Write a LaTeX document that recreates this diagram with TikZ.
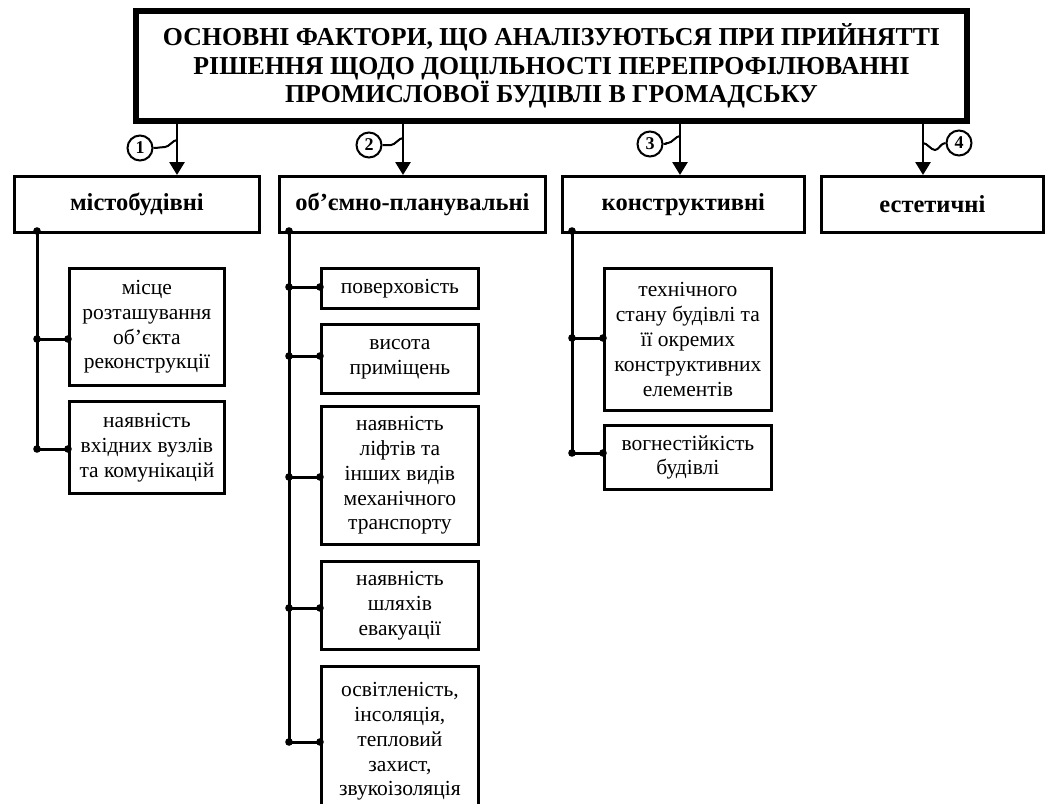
\documentclass[tikz,border=0pt]{standalone}
\usepackage{fontspec}
\setmainfont{Liberation Serif}
\usetikzlibrary{arrows.meta}
\begin{document}
\begin{tikzpicture}[x=1pt,y=-1pt,
  box/.style={draw, line width=2.8pt, align=center, inner sep=0pt, anchor=north west},
  lvl2/.style={box, minimum height=56pt, font=\fontsize{24.5}{28}\selectfont\bfseries},
  lvl3/.style={box, font=\fontsize{21.5}{24.8}\selectfont},
  arr/.style={line width=2.8pt, -{Triangle[width=15pt,length=13pt]}},
  conn/.style={line width=3pt},
  num/.style={circle, draw, line width=2pt, minimum size=25pt, inner sep=0pt, font=\fontsize{18}{18}\selectfont\bfseries},
  squig/.style={line width=2pt}]
\useasboundingbox (0,0) rectangle (1046,803);
\clip (0,0) rectangle (1046,803);
\fill[white] (0,0) rectangle (1046,803);

% title
\node[draw, line width=6pt, anchor=north west, minimum width=831pt, minimum height=110pt, align=center, inner sep=0pt,
  font=\fontsize{25.8}{28.5}\selectfont\bfseries] (top) at (133,8)
  {ОСНОВНІ ФАКТОРИ, ЩО АНАЛІЗУЮТЬСЯ ПРИ ПРИЙНЯТТІ\\РІШЕННЯ ЩОДО ДОЦІЛЬНОСТІ ПЕРЕПРОФІЛЮВАННІ\\ПРОМИСЛОВОЇ БУДІВЛІ В ГРОМАДСЬКУ};

% level 2
\node[lvl2, minimum width=245pt] (mist) at (13,175) {містобудівні};
\node[lvl2, minimum width=266pt] (obj) at (278,175) {об’ємно-планувальні};
\node[lvl2, minimum width=242pt] (kons) at (561,175) {конструктивні};
\node[lvl2, minimum width=222pt] (est) at (820,175) {естетичні};

% arrows
\coordinate (a1) at (177,0);
\coordinate (a2) at (403,0);
\coordinate (a3) at (680,0);
\coordinate (a4) at (923,0);
\draw[arr] (a1 |- top.south) -- (a1 |- mist.north);
\draw[arr] (a2 |- top.south) -- (a2 |- obj.north);
\draw[arr] (a3 |- top.south) -- (a3 |- kons.north);
\draw[arr] (a4 |- top.south) -- (a4 |- est.north);

% numbered circles
\node[num] (n1) at (140,148) {1};
\node[num] (n2) at (369,145) {2};
\node[num] (n3) at (650,144) {3};
\node[num] (n4) at (959,143) {4};
\coordinate (q1) at (177,140);
\coordinate (q2) at (403,138);
\coordinate (q3) at (680,136);
\coordinate (q4) at (923,143);
\draw[squig] (n1.east) .. controls +(5,0) and +(-4,0) .. ([xshift=-12pt,yshift=-7pt]q1) .. controls +(4,0) and +(-4,0) .. (q1);
\draw[squig] (n2.east) .. controls +(5,0) and +(-4,0) .. ([xshift=-12pt,yshift=-7pt]q2) .. controls +(4,0) and +(-4,0) .. (q2);
\draw[squig] (n3.east) .. controls +(5,0) and +(-4,0) .. ([xshift=-12pt,yshift=-7pt]q3) .. controls +(4,0) and +(-4,0) .. (q3);
\draw[squig] (q4) .. controls +(4,0) and +(-4,0) .. ([xshift=12pt,yshift=-7pt]q4) .. controls +(4,0) and +(-5,0) .. (n4.west);

% level 3 column 1
\node[lvl3, minimum width=155pt, minimum height=117pt] (bA) at (68,267) {місце\\розташування\\об’єкта\\реконструкції};
\node[lvl3, minimum width=155pt, minimum height=92pt] (bB) at (68,400) {наявність\\вхідних вузлів\\та комунікацій};
% column 2
\node[lvl3, minimum width=157pt, minimum height=40pt] (c1) at (320,267) {поверховість};
\node[lvl3, minimum width=157pt, minimum height=69pt] (c2) at (320,323) {висота\\приміщень};
\node[lvl3, minimum width=157pt, minimum height=138pt] (c3) at (320,405) {наявність\\ліфтів та\\інших видів\\механічного\\транспорту};
\node[lvl3, minimum width=157pt, minimum height=88pt] (c4) at (320,560) {наявність\\шляхів\\евакуації};
\node[lvl3, minimum width=157pt, minimum height=150pt] (c5) at (320,665) {освітленість,\\інсоляція,\\тепловий\\захист,\\звукоізоляція};
% column 3
\node[lvl3, minimum width=167pt, minimum height=142pt] (d1) at (603,267) {технічного\\стану будівлі та\\її окремих\\конструктивних\\елементів};
\node[lvl3, minimum width=167pt, minimum height=64pt] (d2) at (603,424) {вогнестійкість\\будівлі};

% spines
\coordinate (s1) at (37,231);
\coordinate (s2) at (289,231);
\coordinate (s3) at (572,231);
\coordinate (jA) at (37,339);
\coordinate (jB) at (37,449);
\coordinate (j1) at (289,287);
\coordinate (j2) at (289,356);
\coordinate (j3) at (289,477);
\coordinate (j4) at (289,608);
\coordinate (j5) at (289,742);
\coordinate (k1) at (572,338);
\coordinate (k2) at (572,453);

\draw[conn] (s1) -- (jB);
\draw[conn] (s2) -- (j5);
\draw[conn] (s3) -- (k2);
\foreach \j/\b in {jA/bA, jB/bB, j1/c1, j2/c2, j3/c3, j4/c4, j5/c5, k1/d1, k2/d2} {
  \draw[conn] (\j) -- (\j -| \b.west);
  \fill (\j) circle[radius=3.8pt];
  \fill (\j -| \b.west) circle[radius=3.8pt];
}
\fill (s1) circle[radius=3.8pt];
\fill (s2) circle[radius=3.8pt];
\fill (s3) circle[radius=3.8pt];
\end{tikzpicture}
\end{document}
